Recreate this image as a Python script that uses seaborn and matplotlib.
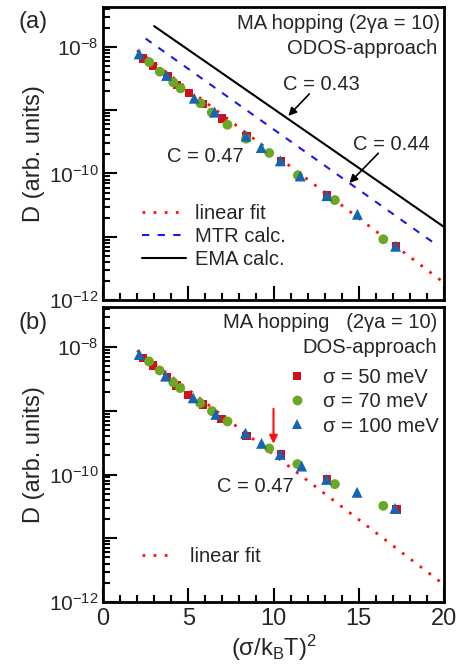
import numpy as np
import pandas as pd
import matplotlib
matplotlib.use("Agg")
import matplotlib.pyplot as plt
from matplotlib.ticker import FixedLocator, FuncFormatter, LogLocator, MultipleLocator, NullFormatter
from matplotlib.lines import Line2D
import seaborn as sns

# ---------------- data (log10 of D, arbitrary units) ----------------
# panel (a): ODOS approach
a_sq_x = [2.36, 2.95, 3.78, 4.34, 5.03, 5.88, 6.96, 8.42, 10.43, 13.15, 17.2]
a_sq_logD = [-8.18, -8.30, -8.46, -8.60, -8.73, -8.90, -9.13, -9.41, -9.80, -10.35, -11.15]
a_ci_x = [2.71, 3.33, 4.12, 4.55, 5.72, 6.38, 7.30, 8.39, 9.75, 11.43, 13.6, 16.44]
a_ci_logD = [-8.24, -8.39, -8.56, -8.655, -8.89, -9.035, -9.23, -9.45, -9.675, -10.03, -10.42, -11.04]
a_tr_x = [2.12, 3.73, 5.35, 6.55, 8.39, 9.28, 10.40, 11.57, 13.13, 14.92, 17.16]
a_tr_logD = [-8.11, -8.45, -8.81, -9.03, -9.41, -9.59, -9.80, -10.04, -10.35, -10.645, -11.15]

# panel (b): DOS approach
b_sq_x = [2.36, 2.95, 3.77, 4.32, 5.0, 5.88, 6.95, 8.42, 10.43, 13.14, 17.21]
b_sq_logD = [-8.17, -8.29, -8.465, -8.60, -8.75, -8.90, -9.125, -9.39, -9.685, -10.075, -10.55]
b_ci_x = [2.70, 3.32, 4.12, 4.53, 5.70, 6.39, 7.30, 9.75, 11.40, 13.6, 16.44]
b_ci_logD = [-8.225, -8.366, -8.554, -8.643, -8.878, -9.004, -9.166, -9.59, -9.835, -10.15, -10.49]
b_tr_x = [2.13, 3.67, 5.29, 6.62, 8.36, 9.30, 10.39, 11.65, 13.11, 14.90, 17.12]
b_tr_logD = [-8.115, -8.455, -8.795, -9.056, -9.35, -9.51, -9.684, -9.867, -10.076, -10.278, -10.53]

sigma_labels = ["σ = 50 meV", "σ = 70 meV", "σ = 100 meV"]

# straight lines ln D = ln D0 - C (σ/kT)^2
fit_C, fit_logD0, fit_x = 0.47, -7.645, [2.0, 20.0]
mtr_C, mtr_logD0, mtr_x = 0.44, -7.39, [2.5, 19.6]
ema_C, ema_logD0, ema_x = 0.43, -7.11, [3.0, 20.0]

# ---------------- style ----------------
sns.set_style("ticks")
plt.rcParams["font.family"] = ["Liberation Sans", "DejaVu Sans"]
plt.rcParams["mathtext.fontset"] = "custom"
plt.rcParams["mathtext.rm"] = "Liberation Sans"
plt.rcParams["mathtext.it"] = "Liberation Sans:italic"
plt.rcParams["mathtext.bf"] = "Liberation Sans:bold"

RED = "#d0101c"
GREEN = "#6aa823"
BLUE = "#1565b0"
FIT_RED = "#ff1010"
MTR_BLUE = "#1a1aee"

fig = plt.figure(figsize=(4.65, 6.67), dpi=100)
ax_a = fig.add_axes([103 / 465, 1 - 300 / 667, 341 / 465, 293 / 667])
ax_b = fig.add_axes([103 / 465, 1 - 602 / 667, 341 / 465, 295 / 667])


def model_line(C, logD0, xs):
    xs = np.array(xs)
    return pd.DataFrame({"x": xs, "D": 10.0 ** (logD0 - C * xs / np.log(10))})


def draw_points(ax, sq, ci, tr):
    for (xs, ys), mk, col, s in zip((sq, ci, tr), ("s", "o", "^"), (RED, GREEN, BLUE), (36, 50, 62)):
        df = pd.DataFrame({"x": xs, "D": 10.0 ** np.array(ys)})
        sns.scatterplot(data=df, x="x", y="D", marker=mk, color=col, s=s,
                        edgecolor="none", linewidth=0, ax=ax, zorder=3, legend=False)


def style_axis(ax, show_xlabels):
    ax.set_yscale("log")
    ax.set_xlim(0, 20)
    ax.yaxis.set_major_locator(FixedLocator([10.0 ** e for e in range(-12, -6)]))
    ax.yaxis.set_major_formatter(FuncFormatter(
        lambda v, p: (r"$\mathregular{10^{%d}}$" % round(np.log10(v))) if round(np.log10(v)) % 2 == 0 else ""))
    ax.yaxis.set_minor_locator(LogLocator(base=10, subs=np.arange(2, 10), numticks=20))
    ax.yaxis.set_minor_formatter(NullFormatter())
    ax.xaxis.set_major_locator(MultipleLocator(5))
    ax.xaxis.set_minor_locator(MultipleLocator(1))
    ax.tick_params(which="both", direction="in", top=False, right=False, width=1.5, color="black")
    ax.tick_params(which="major", length=10)
    ax.tick_params(which="minor", length=5)
    ax.tick_params(axis="y", labelsize=15, pad=3)
    ax.tick_params(axis="x", labelsize=17, pad=4, labelbottom=show_xlabels)
    for sp in ax.spines.values():
        sp.set_linewidth(2)
        sp.set_color("black")
    ax.set_ylabel("D (arb. units)", fontsize=17, labelpad=3)
    ax.set_xlabel("")


# ---------------- panel (a) ----------------
sns.lineplot(data=model_line(fit_C, fit_logD0, fit_x), x="x", y="D", ax=ax_a, color=FIT_RED,
             linewidth=2, linestyle=(0, (1, 3)), zorder=1)
sns.lineplot(data=model_line(mtr_C, mtr_logD0, mtr_x), x="x", y="D", ax=ax_a, color=MTR_BLUE,
             linewidth=1.5, linestyle=(0, (3.5, 4)), zorder=1)
sns.lineplot(data=model_line(ema_C, ema_logD0, ema_x), x="x", y="D", ax=ax_a, color="black",
             linewidth=1.5, zorder=1)
draw_points(ax_a, (a_sq_x, a_sq_logD), (a_ci_x, a_ci_logD), (a_tr_x, a_tr_logD))
style_axis(ax_a, False)
ax_a.set_ylim(1e-12, 10 ** -7.368)

ax_a.text(0.988, 0.942, "MA hopping (2γa = 10)", transform=ax_a.transAxes, ha="right", va="center", fontsize=14.5)
ax_a.text(0.979, 0.857, "ODOS-approach", transform=ax_a.transAxes, ha="right", va="center", fontsize=14.5)

ax_a.text(12.82, 10 ** -8.60, f"C = {ema_C:.2f}", ha="center", va="center", fontsize=14.5)
ax_a.text(16.9, 10 ** -9.534, f"C = {mtr_C:.2f}", ha="center", va="center", fontsize=14.5)
ax_a.text(5.98, 10 ** -9.739, f"C = {fit_C:.2f}", ha="center", va="center", fontsize=14.5)
arrow_k = dict(arrowstyle="-|>", color="black", lw=1.2, mutation_scale=12, shrinkA=0, shrinkB=0)
ax_a.annotate("", xy=(10.87, 10 ** -9.09), xytext=(12.1, 10 ** -8.742), arrowprops=arrow_k)
ax_a.annotate("", xy=(14.45, 10 ** -10.15), xytext=(16.15, 10 ** -9.68), arrowprops=arrow_k)

handles_a = [
    Line2D([], [], color=FIT_RED, linewidth=2, linestyle=(0, (1, 3))),
    Line2D([], [], color=MTR_BLUE, linewidth=1.5, linestyle=(0, (3.5, 4))),
    Line2D([], [], color="black", linewidth=1.5),
]
ax_a.legend(handles_a, ["linear fit", "MTR calc.", "EMA calc."], loc="center left",
            bbox_to_anchor=(0.114, 0.218), frameon=False, fontsize=14.5, handlelength=2.2,
            handletextpad=0.45, labelspacing=0.2, borderpad=0, borderaxespad=0)

# ---------------- panel (b) ----------------
sns.lineplot(data=model_line(fit_C, fit_logD0, fit_x), x="x", y="D", ax=ax_b, color=FIT_RED,
             linewidth=2, linestyle=(0, (1, 3)), zorder=1)
draw_points(ax_b, (b_sq_x, b_sq_logD), (b_ci_x, b_ci_logD), (b_tr_x, b_tr_logD))
style_axis(ax_b, True)
ax_b.set_ylim(1e-12, 10 ** -7.37)
ax_b.set_xlabel(r"$\mathregular{(σ/k_BT)^2}$", fontsize=17, labelpad=2)

ax_b.text(0.979, 0.946, "MA hopping   (2γa = 10)", transform=ax_b.transAxes, ha="right", va="center", fontsize=14.5)
ax_b.text(0.979, 0.864, "DOS-approach", transform=ax_b.transAxes, ha="right", va="center", fontsize=14.5)
ax_b.text(8.91, 10 ** -10.19, f"C = {fit_C:.2f}", ha="center", va="center", fontsize=14.5)
ax_b.annotate("", xy=(10.0, 10 ** -9.516), xytext=(10.0, 10 ** -8.967),
              arrowprops=dict(arrowstyle="-|>", color=FIT_RED, lw=1.5, mutation_scale=12, shrinkA=0, shrinkB=0))

handles_b = [
    Line2D([], [], linestyle="none", marker="s", color=RED, markersize=6, markeredgewidth=0),
    Line2D([], [], linestyle="none", marker="o", color=GREEN, markersize=7, markeredgewidth=0),
    Line2D([], [], linestyle="none", marker="^", color=BLUE, markersize=7.5, markeredgewidth=0),
]
leg_b = ax_b.legend(handles_b, sigma_labels, loc="center left", bbox_to_anchor=(0.54, 0.678),
                    frameon=False, fontsize=14.5, handlelength=1.0, handletextpad=0.8,
                    labelspacing=0.25, borderpad=0, borderaxespad=0)
ax_b.add_artist(leg_b)
ax_b.legend([Line2D([], [], color=FIT_RED, linewidth=2, linestyle=(0, (1, 3)))], ["linear fit"],
            loc="center left", bbox_to_anchor=(0.114, 0.153), frameon=False, fontsize=14.5,
            handlelength=1.6, handletextpad=0.77, borderpad=0, borderaxespad=0)

fig.text(33 / 465, 1 - 22 / 667, "(a)", ha="center", va="center", fontsize=17)
fig.text(33 / 465, 1 - 323 / 667, "(b)", ha="center", va="center", fontsize=17)

fig.savefig("out.png", dpi=100)
